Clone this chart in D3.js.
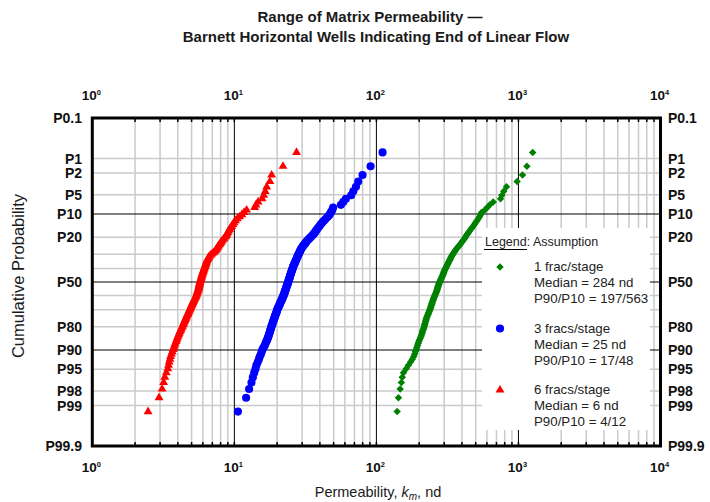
<!DOCTYPE html>
<html>
<head>
<meta charset="utf-8">
<script src="https://cdn.jsdelivr.net/npm/d3@7"></script>
<style>
  body { margin: 0; background: #fff; }
  text { font-family: "Liberation Sans", Arial, sans-serif; }
</style>
</head>
<body>
<div id="chart"></div>
<script>
"use strict";

// permeability (nd), sorted high -> low, one value per well
const greenValues = [1260, 1146, 1068, 979, 824, 789, 764, 748, 664, 629,
    603, 580, 550, 541, 532, 521, 510, 500, 491, 481,
    471, 462, 453, 445, 438, 431, 425, 419, 412, 406,
    399, 393, 387, 381, 375, 369, 363, 359, 355, 350,
    346, 342, 338, 335, 332, 330, 327, 324, 321, 319,
    316, 313, 311, 308, 306, 303, 301, 299, 298, 296,
    294, 292, 290, 288, 286, 284, 282, 280, 278, 276,
    275, 273, 272, 271, 269, 268, 267, 265, 264, 262,
    260, 258, 257, 255, 253, 252, 250, 249, 247, 246,
    245, 243, 242, 241, 239, 238, 236, 234, 232, 231,
    229, 227, 225, 224, 223, 222, 220, 219, 218, 216,
    215, 213, 211, 210, 208, 206, 204, 201, 199, 197,
    195, 193, 191, 188, 186, 183, 179, 174, 168, 162,
    155, 152, 150, 147, 143, 140];

const blueValues = [110.5, 91.0, 79.9, 74.5, 71.8, 68.8, 66.5, 61.0, 58.5, 56.3,
    49.6, 48.9, 47.8, 46.8, 45.5, 44.0, 42.7, 41.6, 40.6, 39.8,
    38.9, 38.2, 37.5, 36.9, 36.2, 35.5, 34.7, 33.9, 33.2, 32.5,
    32.0, 31.5, 31.0, 30.5, 30.1, 29.7, 29.4, 29.1, 28.9, 28.6,
    28.4, 28.1, 27.9, 27.7, 27.5, 27.3, 27.1, 26.9, 26.7, 26.5,
    26.3, 26.1, 25.9, 25.8, 25.7, 25.5, 25.4, 25.2, 25.1, 25.0,
    24.8, 24.7, 24.6, 24.5, 24.4, 24.2, 24.1, 24.0, 23.9, 23.8,
    23.6, 23.5, 23.4, 23.2, 23.1, 23.0, 22.9, 22.7, 22.6, 22.5,
    22.4, 22.2, 22.1, 21.9, 21.8, 21.6, 21.5, 21.3, 21.1, 21.0,
    20.8, 20.7, 20.5, 20.3, 20.2, 20.0, 19.9, 19.8, 19.7, 19.5,
    19.4, 19.3, 19.1, 19.0, 18.9, 18.7, 18.6, 18.5, 18.3, 18.2,
    18.1, 17.9, 17.8, 17.7, 17.5, 17.4, 17.2, 17.05, 16.8, 16.6,
    16.4, 16.1, 15.8, 15.6, 15.4, 15.1, 14.9, 14.6, 14.3, 14.1,
    13.8, 13.5, 13.2, 12.7, 12.1, 10.6];

const redValues = [27.4, 22.0, 18.3, 17.8, 16.9, 16.5, 16.1, 15.7, 14.7, 14.2,
    13.9, 12.2, 11.7, 11.3, 10.9, 10.5, 10.2, 9.96, 9.77, 9.59,
    9.42, 9.26, 9.11, 8.99, 8.89, 8.79, 8.68, 8.51, 8.35, 8.20,
    8.07, 7.96, 7.85, 7.74, 7.64, 7.55, 7.45, 7.36, 7.25, 7.10,
    6.95, 6.81, 6.67, 6.60, 6.54, 6.48, 6.42, 6.37, 6.34, 6.30,
    6.27, 6.23, 6.20, 6.16, 6.13, 6.09, 6.06, 6.03, 5.99, 5.96,
    5.93, 5.90, 5.88, 5.85, 5.82, 5.79, 5.77, 5.74, 5.72, 5.70,
    5.68, 5.66, 5.64, 5.62, 5.60, 5.58, 5.55, 5.52, 5.49, 5.46,
    5.43, 5.40, 5.37, 5.33, 5.28, 5.24, 5.19, 5.15, 5.11, 5.07,
    5.03, 4.99, 4.95, 4.92, 4.88, 4.84, 4.80, 4.76, 4.72, 4.68,
    4.64, 4.60, 4.56, 4.52, 4.48, 4.44, 4.40, 4.36, 4.32, 4.28,
    4.23, 4.19, 4.14, 4.10, 4.06, 4.01, 3.97, 3.93, 3.89, 3.84,
    3.80, 3.76, 3.71, 3.66, 3.61, 3.56, 3.52, 3.48, 3.44, 3.40,
    3.32, 3.24, 3.18, 3.10, 2.95, 2.47];

const probTicks = [0.1, 1, 2, 5, 10, 20, 50, 80, 90, 95, 98, 99, 99.9];
const probTickLabels = ["P0.1", "P1", "P2", "P5", "P10", "P20", "P50", "P80", "P90", "P95", "P98", "P99", "P99.9"];
const probGrid = [1, 2, 5, 10, 20, 30, 40, 50, 60, 70, 80, 90, 95, 98, 99];
const probMajor = [10, 50, 90];
const decades = [1, 10, 100, 1000, 10000];
const decadeExp = ["0", "1", "2", "3", "4"];

const seriesNames = ["1 frac/stage", "3 fracs/stage", "6 fracs/stage"];
const seriesMedians = ["Median = 284 nd", "Median = 25 nd", "Median = 6 nd"];
const seriesP90P10 = ["P90/P10 = 197/563", "P90/P10 = 17/48", "P90/P10 = 4/12"];

// inverse of the standard normal cdf (Acklam)
let normInv = function (p) {
    let a = [-39.69683028665376, 220.9460984245205, -275.9285104469687, 138.3577518672690, -30.66479806614716, 2.506628277459239];
    let b = [-54.47609879822406, 161.5858368580409, -155.6989798598866, 66.80131188771972, -13.28068155288572];
    let c = [-0.007784894002430293, -0.3223964580411365, -2.400758277161838, -2.549732539343734, 4.374664141464968, 2.938163982698783];
    let d = [0.007784695709041462, 0.3224671290700398, 2.445134137142996, 3.754408661907416];
    let plow = 0.02425, q, r;
    if (p < plow) {
        q = Math.sqrt(-2 * Math.log(p));
        return (((((c[0] * q + c[1]) * q + c[2]) * q + c[3]) * q + c[4]) * q + c[5]) /
            ((((d[0] * q + d[1]) * q + d[2]) * q + d[3]) * q + 1);
    }
    if (p > 1 - plow) {
        q = Math.sqrt(-2 * Math.log(1 - p));
        return -(((((c[0] * q + c[1]) * q + c[2]) * q + c[3]) * q + c[4]) * q + c[5]) /
            ((((d[0] * q + d[1]) * q + d[2]) * q + d[3]) * q + 1);
    }
    q = p - 0.5;
    r = q * q;
    return (((((a[0] * r + a[1]) * r + a[2]) * r + a[3]) * r + a[4]) * r + a[5]) * q /
        (((((b[0] * r + b[1]) * r + b[2]) * r + b[3]) * r + b[4]) * r + 1);
};

let W = 710, H = 502;
let plot = { left: 92.3, right: 660.5, top: 118, bottom: 446 };

let svg = d3.select("#chart")
    .append("svg")
    .attr("width", W)
    .attr("height", H);

let x = d3.scaleLog().domain([1, 10000]).range([plot.left, plot.right]);
let zMax = normInv(0.999);
let yz = d3.scaleLinear().domain([-zMax, zMax]).range([plot.top, plot.bottom]);
let y = function (pct) { return yz(normInv(pct / 100)); };

// minor x positions 2..9 of each decade
let minorX = [];
for (let dec of decades.slice(0, 4)) {
    for (let k = 2; k <= 9; k++) minorX.push(dec * k);
}

// grid
let grid = svg.append("g").attr("class", "grid");
grid.selectAll(".vminor")
    .data(minorX)
    .enter().append("line")
    .attr("x1", d => x(d)).attr("x2", d => x(d))
    .attr("y1", plot.top).attr("y2", plot.bottom)
    .attr("stroke", "#cacaca").attr("stroke-width", 1.5);
grid.selectAll(".hminor")
    .data(probGrid.filter(p => probMajor.indexOf(p) < 0))
    .enter().append("line")
    .attr("x1", plot.left).attr("x2", plot.right)
    .attr("y1", d => y(d)).attr("y2", d => y(d))
    .attr("stroke", "#cacaca").attr("stroke-width", 1.5);
grid.selectAll(".vmajor")
    .data(decades.slice(1, 4))
    .enter().append("line")
    .attr("x1", d => x(d)).attr("x2", d => x(d))
    .attr("y1", plot.top).attr("y2", plot.bottom)
    .attr("stroke", "#000").attr("stroke-width", 1);
grid.selectAll(".hmajor")
    .data(probMajor)
    .enter().append("line")
    .attr("x1", plot.left).attr("x2", plot.right)
    .attr("y1", d => y(d)).attr("y2", d => y(d))
    .attr("stroke", "#000").attr("stroke-width", 1);

// legend box hides the grid behind it
let legX = 482, legY = 228;
let legend = svg.append("g").attr("class", "legend");
legend.append("rect")
    .attr("x", legX).attr("y", legY)
    .attr("width", 168).attr("height", 202)
    .attr("fill", "#fff");

// border ticks
let ticks = svg.append("g").attr("class", "border-ticks");
ticks.selectAll(".tb")
    .data(minorX.concat(decades.slice(1, 4)))
    .enter().append("line")
    .attr("x1", d => x(d)).attr("x2", d => x(d))
    .attr("y1", plot.bottom).attr("y2", plot.bottom - 4)
    .attr("stroke", "#000").attr("stroke-width", 1.5);
ticks.selectAll(".tt")
    .data(minorX.concat(decades.slice(1, 4)))
    .enter().append("line")
    .attr("x1", d => x(d)).attr("x2", d => x(d))
    .attr("y1", plot.top).attr("y2", plot.top + 4)
    .attr("stroke", "#000").attr("stroke-width", 1.5);

// frame
svg.append("rect")
    .attr("x", plot.left).attr("y", plot.top)
    .attr("width", plot.right - plot.left)
    .attr("height", plot.bottom - plot.top)
    .attr("fill", "none")
    .attr("stroke", "#000")
    .attr("stroke-width", 3);

// data points
let series = [
    { values: greenValues, color: "#008000", shape: "diamond" },
    { values: blueValues, color: "#0000ff", shape: "circle" },
    { values: redValues, color: "#ff0000", shape: "triangle" }
];
let symbolPath = function (shape) {
    if (shape === "circle") return d3.symbol(d3.symbolCircle, 52)();
    if (shape === "triangle") return d3.symbol(d3.symbolTriangle, 34)();
    return d3.symbol(d3.symbolSquare, 28)();
};
let marks = svg.append("g").attr("class", "points");
series.forEach(function (s) {
    let n = s.values.length;
    marks.append("g")
        .selectAll("path")
        .data(s.values)
        .enter().append("path")
        .attr("d", symbolPath(s.shape))
        .attr("fill", s.color)
        .attr("transform", function (d, i) {
            let p = (i + 1) / (n + 1) * 100;
            return "translate(" + x(d) + "," + y(p) + ")" + (s.shape === "diamond" ? " rotate(45)" : "");
        });
});

// legend contents
legend.append("text")
    .attr("x", legX + 3).attr("y", legY + 18)
    .attr("font-size", 12.5).attr("fill", "#222")
    .text("Legend: Assumption");
legend.append("line")
    .attr("x1", legX + 2).attr("x2", legX + 45)
    .attr("y1", legY + 21.5).attr("y2", legY + 21.5)
    .attr("stroke", "#000").attr("stroke-width", 1);
series.forEach(function (s, k) {
    let top = legY + 43 + k * 61.5;
    legend.append("path")
        .attr("d", symbolPath(s.shape))
        .attr("fill", s.color)
        .attr("transform", "translate(" + (legX + 18) + "," + (top - 4) + ")" + (s.shape === "diamond" ? " rotate(45)" : ""));
    let lines = [seriesNames[k], seriesMedians[k], seriesP90P10[k]];
    lines.forEach(function (t, j) {
        legend.append("text")
            .attr("x", legX + 52).attr("y", top + j * 16)
            .attr("font-size", 13.3).attr("fill", "#222")
            .text(t);
    });
});

// y labels both sides
let yLab = svg.append("g").attr("class", "y-labels");
yLab.selectAll(".yl")
    .data(probTicks)
    .enter().append("text")
    .attr("x", 82).attr("y", d => y(d)).attr("dy", "0.36em")
    .attr("text-anchor", "end")
    .attr("font-size", 14).attr("font-weight", "bold").attr("fill", "#111")
    .text((d, i) => probTickLabels[i]);
yLab.selectAll(".yr")
    .data(probTicks)
    .enter().append("text")
    .attr("x", 668).attr("y", d => y(d)).attr("dy", "0.36em")
    .attr("text-anchor", "start")
    .attr("font-size", 14).attr("font-weight", "bold").attr("fill", "#111")
    .text((d, i) => probTickLabels[i]);

// decade labels top and bottom
[100, 472].forEach(function (baseY) {
    let lab = svg.append("g").selectAll("text")
        .data(decades)
        .enter().append("text")
        .attr("x", d => x(d) - 1).attr("y", baseY)
        .attr("text-anchor", "middle")
        .attr("font-size", 13.5).attr("font-weight", "bold").attr("fill", "#111");
    lab.append("tspan").text("10");
    lab.append("tspan")
        .attr("font-size", 7.5).attr("dy", -5.5)
        .text((d, i) => decadeExp[i]);
});

// titles
let title = svg.append("text")
    .attr("text-anchor", "middle")
    .attr("font-size", 15).attr("font-weight", "bold").attr("fill", "#1a1a1a");
title.append("tspan").attr("x", 370).attr("y", 22).text("Range of Matrix Permeability \u2014");
title.append("tspan").attr("x", 376).attr("y", 42).text("Barnett Horizontal Wells Indicating End of Linear Flow");

let xTitle = svg.append("text")
    .attr("x", 378).attr("y", 497)
    .attr("text-anchor", "middle")
    .attr("font-size", 14.5).attr("fill", "#1a1a1a");
xTitle.append("tspan").text("Permeability, ");
xTitle.append("tspan").attr("font-style", "italic").text("k");
xTitle.append("tspan").attr("font-size", 10).attr("font-style", "italic").attr("dy", 3).text("m");
xTitle.append("tspan").attr("dy", -3).text(", nd");

svg.append("text")
    .attr("transform", "translate(24,276) rotate(-90)")
    .attr("text-anchor", "middle")
    .attr("font-size", 16.5).attr("fill", "#1a1a1a")
    .text("Cumulative Probability");
</script>
</body>
</html>
